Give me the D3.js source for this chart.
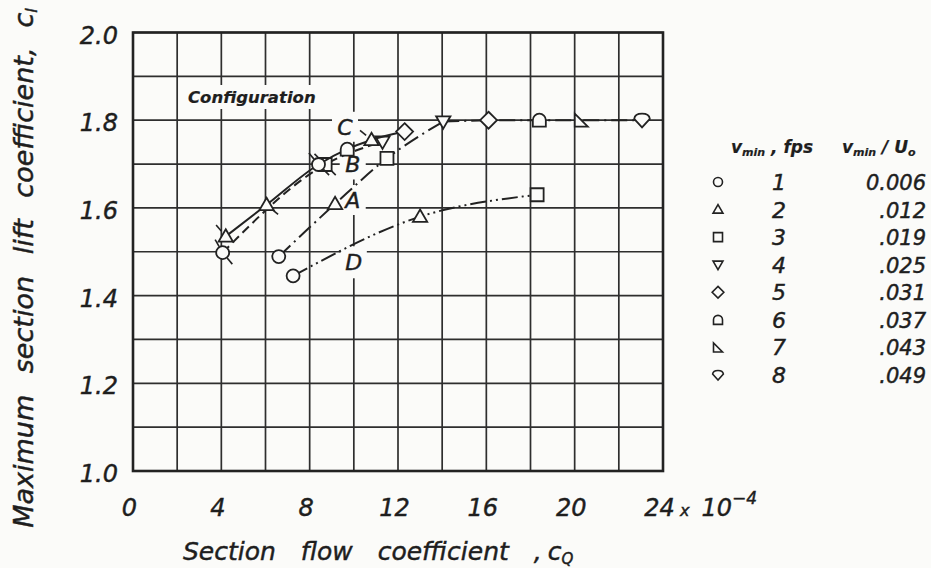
<!DOCTYPE html>
<html><head><meta charset="utf-8">
<script src="https://cdn.jsdelivr.net/npm/d3@7"></script>
<style>
html,body{margin:0;padding:0;background:#fbfbf9;}
svg{display:block;}
text{font-family:"DejaVu Sans",sans-serif;font-style:italic;fill:#1e1e1e;stroke:#1e1e1e;stroke-width:0.45px;}
</style></head>
<body>
<svg id="c" width="931" height="568"></svg>
<script>
// ---------- data ----------
const xTicks = [0, 4, 8, 12, 16, 20, 24];
const yTicks = [1.0, 1.2, 1.4, 1.6, 1.8, 2.0];
const configNames = ["A", "B", "C", "D"];
// Configuration A (dash-dot)
const aX = [6.6, 9.15, 11.5, 14.05, 16.1, 18.4, 20.3, 23.05];
const aY = [1.489, 1.609, 1.713, 1.797, 1.800, 1.800, 1.800, 1.800];
const aSym = [1, 2, 3, 4, 5, 6, 7, 8];
// Configuration B (dashed)
const bX = [4.06, 8.7, 11.3];
const bY = [1.498, 1.699, 1.751];
const bSym = [1, 3, 4];
// Configuration C (solid)
const cX = [4.2, 6.05, 8.4, 9.7, 10.8, 12.3];
const cY = [1.535, 1.607, 1.699, 1.734, 1.755, 1.774];
const cSym = [2, 2, 1, 6, 2, 5];
// Configuration D (dash-dot-dot)
const dX = [7.25, 13.0, 18.3];
const dY = [1.445, 1.580, 1.630];
const dSym = [1, 2, 3];
// legend
const legendFps = ["1", "2", "3", "4", "5", "6", "7", "8"];
const legendRatio = ["0.006", ".012", ".019", ".025", ".031", ".037", ".043", ".049"];

// ---------- setup ----------
const svg = d3.select("#c");
const ink = "#222";
const x = d3.scaleLinear().domain([0, 24]).range([133, 663]);
const y = d3.scaleLinear().domain([1, 2]).range([471, 32.5]);

// grid
const grid = svg.append("g").attr("stroke", "#2e2e2e").attr("stroke-width", 1.7);
d3.range(0, 24.01, 2).forEach(v => grid.append("line")
  .attr("x1", x(v)).attr("x2", x(v)).attr("y1", y(1)).attr("y2", y(2)));
d3.range(1, 2.001, 0.1).forEach(v => grid.append("line")
  .attr("x1", x(0)).attr("x2", x(24)).attr("y1", y(v)).attr("y2", y(v)));
svg.append("rect").attr("x", x(0)).attr("y", y(2)).attr("width", x(24) - x(0))
  .attr("height", y(1) - y(2)).attr("fill", "none").attr("stroke", ink).attr("stroke-width", 2.6);

// label backgrounds (grid is broken around labels in the original)
const bg = "#fbfbf9";
function clearBox(cx, cy, w, h) {
  svg.append("rect").attr("x", cx - w / 2).attr("y", cy - h / 2).attr("width", w).attr("height", h).attr("fill", bg);
}
clearBox(x(9.6), y(1.785), 26, 30);
clearBox(x(9.95), y(1.699), 26, 30);
clearBox(x(9.95), y(1.618), 26, 30);
clearBox(x(10.0), y(1.476), 26, 32);
clearBox(255, 97, 145, 24);

// axes
const xAxis = d3.axisBottom(x).tickValues(xTicks).tickSize(0).tickPadding(0)
  .tickFormat(d3.format("d"));
const gx = svg.append("g").attr("transform", `translate(-4,${y(1) + 45})`).call(xAxis);
gx.select(".domain").remove();
gx.selectAll("text").attr("font-size", 24).attr("fill", "#1e1e1e").attr("font-family", "DejaVu Sans")
  .attr("font-style", "italic").attr("dy", 0);
// exponent note after the last tick
const ex = svg.append("text").attr("x", 680).attr("y", y(1) + 45).attr("font-size", 24);
ex.append("tspan").attr("font-size", 16).text("x");
ex.append("tspan").attr("dx", 12).text("10");
ex.append("tspan").attr("font-size", 17).attr("dy", -12).text("−4");

const yAxis = d3.axisLeft(y).tickValues(yTicks).tickSize(0).tickPadding(0).tickFormat(d3.format(".1f"));
const gy = svg.append("g").attr("transform", `translate(${x(0) - 15},3)`).call(yAxis);
gy.select(".domain").remove();
gy.selectAll("text").attr("font-size", 24).attr("fill", "#1e1e1e").attr("font-family", "DejaVu Sans")
  .attr("font-style", "italic");

// axis titles
const xt = svg.append("text").attr("x", 183).attr("y", 560).attr("font-size", 25).attr("word-spacing", 17);
xt.append("tspan").text("Section flow coefficient ,");
xt.append("tspan").attr("dx", 6).text("c");
xt.append("tspan").attr("font-size", 15).attr("dy", 4).text("Q");

const yt = svg.append("text").attr("transform", "translate(33,268) rotate(-90)")
  .attr("text-anchor", "middle").attr("font-size", 27).attr("word-spacing", 13);
yt.append("tspan").text("Maximum section lift coefficient,");
yt.append("tspan").attr("dx", 20).text("c");
yt.append("tspan").attr("font-size", 16).attr("dy", 4).text("l");

// configuration labels
svg.append("text").attr("x", 188).attr("y", 103).attr("font-size", 16.5).attr("font-weight", "bold")
  .style("stroke-width", "0.2px").text("Configuration");
const labelPos = {C: [9.6, 1.785], B: [9.95, 1.699], A: [9.95, 1.618], D: [10.0, 1.476]};
configNames.forEach(n => svg.append("text").attr("x", x(labelPos[n][0])).attr("y", y(labelPos[n][1]) + 8)
  .attr("text-anchor", "middle").attr("font-size", 22).text(n));

// ---------- markers ----------
function symPath(sym, s) {
  const h = s / 2;
  switch (sym) {
    case 1: return `M${-h},0A${h},${h} 0 1,0 ${h},0A${h},${h} 0 1,0 ${-h},0Z`;
    case 2: return `M0,${-h * 1.1}L${h * 1.1},${h * 0.8}L${-h * 1.1},${h * 0.8}Z`;
    case 3: return `M${-h},${-h}H${h}V${h}H${-h}Z`;
    case 4: return `M0,${h * 1.1}L${h * 1.1},${-h * 0.8}L${-h * 1.1},${-h * 0.8}Z`;
    case 5: return `M0,${-h * 1.3}L${h * 1.3},0L0,${h * 1.3}L${-h * 1.3},0Z`;
    case 6: return `M${-h},${h}V0A${h},${h} 0 0,1 ${h},0V${h}Z`;
    case 7: return `M${-h},${-h}V${h}H${h}Z`;
    case 8: return `M0,${h * 1.1}L${-h * 1.2},${-h * 0.2}Q${-h * 1.1},${-h} 0,${-h}Q${h * 1.1},${-h} ${h * 1.2},${-h * 0.2}Z`;
  }
}

function drawSeries(xs, ys, syms, dash, curveSplit, flags) {
  const pts = xs.map((v, i) => [v, ys[i]]);
  const line = d3.line().x(d => x(d[0])).y(d => y(d[1])).curve(d3.curveMonotoneX);
  const first = curveSplit ? pts.slice(0, curveSplit + 1) : pts;
  svg.append("path").attr("d", line(first)).attr("fill", "none").attr("stroke", ink)
    .attr("stroke-width", 2).attr("stroke-dasharray", dash);
  if (curveSplit) {
    const rest = pts.slice(curveSplit);
    svg.append("path").attr("d", d3.line().x(d => x(d[0])).y(d => y(d[1]))(rest)).attr("fill", "none")
      .attr("stroke", ink).attr("stroke-width", 2).attr("stroke-dasharray", dash);
  }
  pts.forEach((p, i) => {
    const g = svg.append("g").attr("transform", `translate(${x(p[0])},${y(p[1])})`);
    if (flags && flags[i]) flags[i].forEach(a => {
      const r = a * Math.PI / 180;
      g.append("line").attr("x1", Math.cos(r) * 7).attr("y1", Math.sin(r) * 7)
        .attr("x2", Math.cos(r) * 15).attr("y2", Math.sin(r) * 15)
        .attr("stroke", ink).attr("stroke-width", 1.6);
    });
    g.append("path").attr("d", symPath(syms[i], 13)).attr("fill", "#fbfbf9")
      .attr("stroke", ink).attr("stroke-width", 1.8);
  });
}

drawSeries(dX, dY, dSym, "16,4,2,4,2,4", 0, null);
drawSeries(aX, aY, aSym, "16,5,2,5", 3, null);
drawSeries(bX, bY, bSym, "9,5", 0, [[50, -120], [-135, 45], null]);
drawSeries(cX, cY, cSym, "none", 0, [[-130], [40], [-130, 45], null, [-140], null]);

// ---------- legend ----------
const lg = svg.append("g");
const hd = lg.append("text").attr("x", 731).attr("y", 153).attr("font-size", 17).attr("font-weight", "bold")
  .style("stroke-width", "0.2px");
hd.append("tspan").text("v");
hd.append("tspan").attr("font-size", 11).attr("dy", 3).text("min");
hd.append("tspan").attr("dy", -3).text(" ,  fps");
const hd2 = lg.append("text").attr("x", 842).attr("y", 153).attr("font-size", 17).attr("font-weight", "bold")
  .style("stroke-width", "0.2px");
hd2.append("tspan").text("v");
hd2.append("tspan").attr("font-size", 11).attr("dy", 3).text("min");
hd2.append("tspan").attr("dy", -3).text(" / U");
hd2.append("tspan").attr("font-size", 11).attr("dy", 3).text("o");

const ly = d3.scalePoint().domain(legendFps).range([182, 375]);
legendFps.forEach((f, i) => {
  const cy = ly(f);
  lg.append("path").attr("transform", `translate(718,${cy})`).attr("d", symPath(i + 1, 9))
    .attr("fill", "none").attr("stroke", ink).attr("stroke-width", 1.6);
  lg.append("text").attr("x", 779).attr("y", cy + 8).attr("text-anchor", "middle").attr("font-size", 22).text(f);
  lg.append("text").attr("x", 926).attr("y", cy + 8).attr("text-anchor", "end").attr("font-size", 21).text(legendRatio[i]);
});
</script>
</body></html>
